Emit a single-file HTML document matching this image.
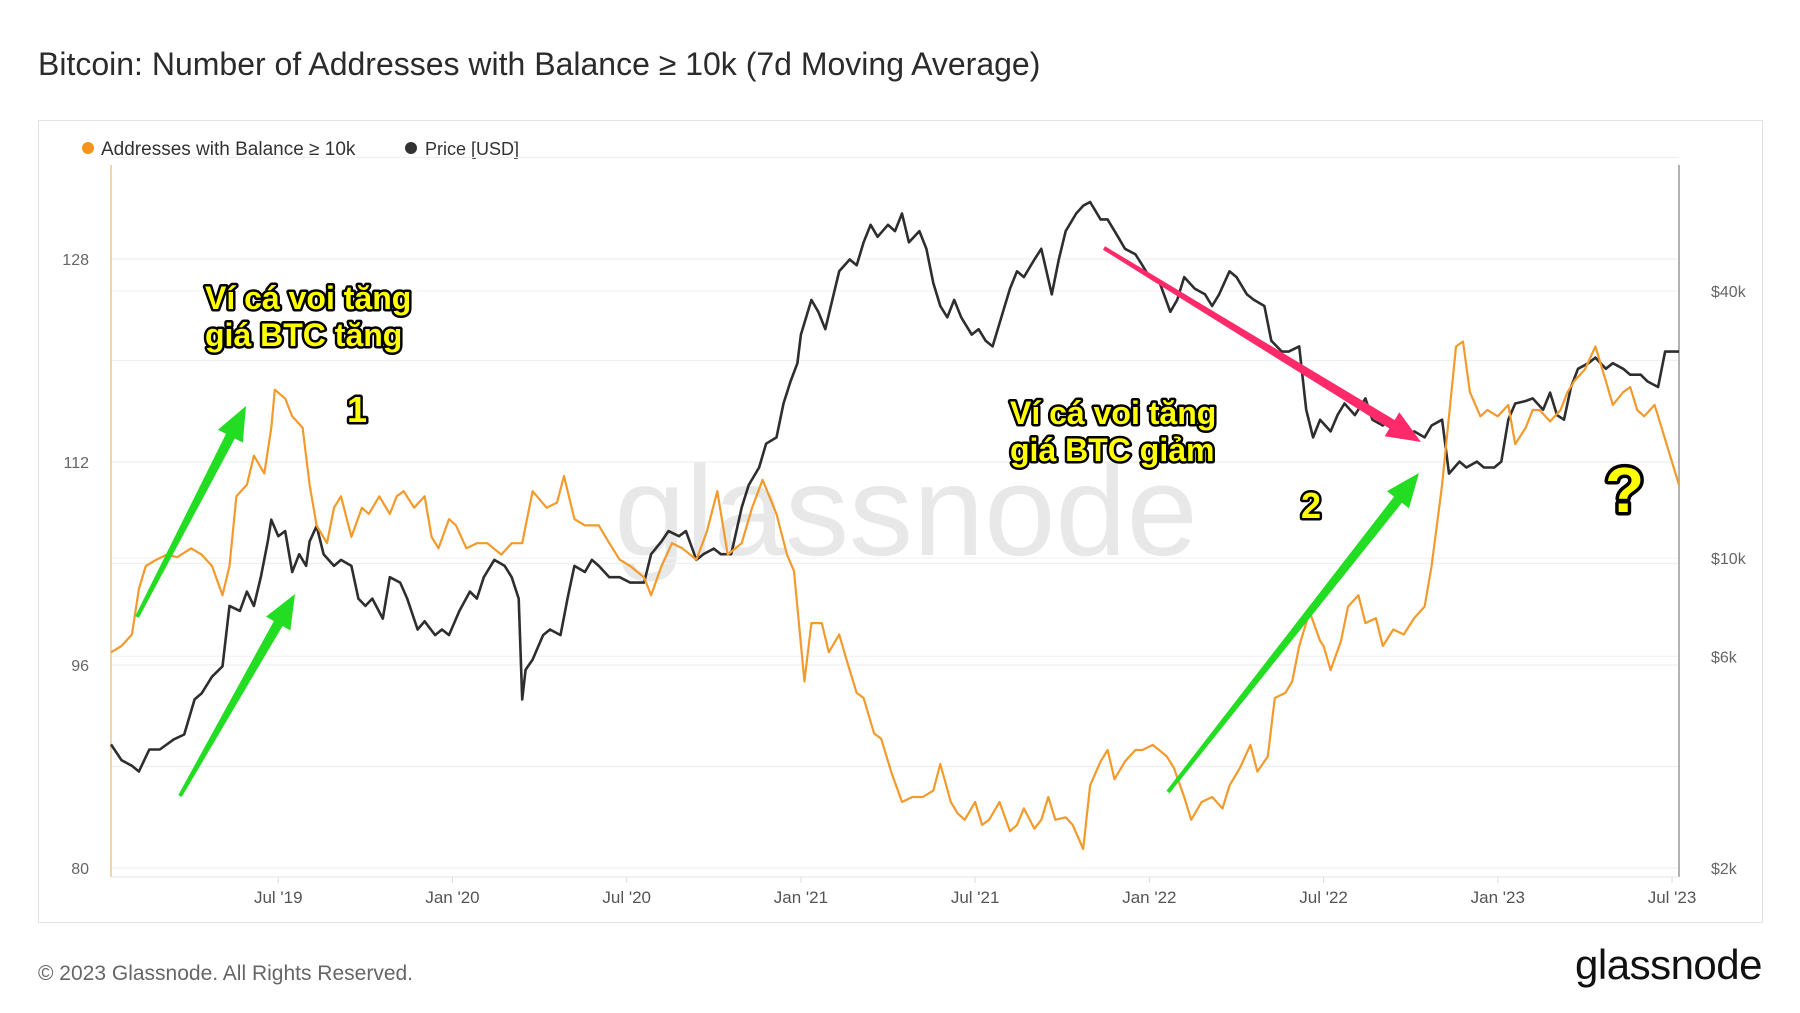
<!DOCTYPE html>
<html><head><meta charset="utf-8">
<style>
html,body{margin:0;padding:0;background:#fff;}
svg{display:block;font-family:"Liberation Sans","DejaVu Sans",sans-serif;}
</style></head>
<body>
<svg id="chart" width="1800" height="1013" viewBox="0 0 1800 1013">
<text x="38" y="75" font-size="32" fill="#2b2b2b">Bitcoin: Number of Addresses with Balance ≥ 10k (7d Moving Average)</text>
<rect x="38.5" y="120.5" width="1724" height="802" fill="#fff" stroke="#e3e3e3"/>
<g>
 <g><circle cx="88" cy="148" r="6" fill="#f7931a"/><text x="101" y="155" font-size="19" fill="#333">Addresses with Balance ≥ 10k</text></g>
 <g><circle cx="411" cy="148" r="6" fill="#333"/><text x="425" y="155" font-size="18" fill="#333">Price [USD]</text></g>
</g>
<text x="906" y="555" font-size="128" fill="#e8e8e8" text-anchor="middle">glassnode</text>
<g id="grid"></g>
<g id="axes"></g>
<g id="series"></g>
<g id="annot">
 <g font-weight="bold" fill="#ffff00" stroke="#000" stroke-width="5" paint-order="stroke" stroke-linejoin="round" font-size="32">
  <text x="205" y="309">Ví cá voi tăng</text>
  <text x="205" y="346">giá BTC tăng</text>
  <text x="347" y="422" font-size="36">1</text>
  <text x="1010" y="424">Ví cá voi tăng</text>
  <text x="1010" y="461">giá BTC giảm</text>
  <text x="1301" y="518" font-size="36">2</text>
  <text x="1605" y="512" font-size="64" stroke-width="7">?</text>
 </g>
</g>
<text x="38" y="980" font-size="21" fill="#666">© 2023 Glassnode. All Rights Reserved.</text>
<text x="1762" y="979" font-size="42" fill="#111" text-anchor="end" letter-spacing="-0.5">glassnode</text>
</svg>
<script>
const addrDates=[2019.02,2019.05,2019.08,2019.10,2019.12,2019.15,2019.18,2019.21,2019.25,2019.28,2019.31,2019.34,2019.36,2019.38,2019.41,2019.43,2019.46,2019.48,2019.49,2019.52,2019.54,2019.57,2019.59,2019.61,2019.64,2019.66,2019.68,2019.71,2019.74,2019.76,2019.79,2019.82,2019.84,2019.86,2019.89,2019.92,2019.94,2019.96,2019.99,2020.01,2020.04,2020.07,2020.10,2020.14,2020.17,2020.20,2020.23,2020.27,2020.30,2020.32,2020.35,2020.38,2020.42,2020.45,2020.48,2020.51,2020.55,2020.57,2020.60,2020.63,2020.66,2020.70,2020.73,2020.76,2020.79,2020.83,2020.86,2020.89,2020.93,2020.96,2020.98,2021.01,2021.03,2021.06,2021.08,2021.11,2021.13,2021.16,2021.18,2021.21,2021.23,2021.26,2021.29,2021.32,2021.35,2021.38,2021.40,2021.43,2021.45,2021.47,2021.50,2021.52,2021.54,2021.57,2021.60,2021.62,2021.64,2021.67,2021.69,2021.71,2021.73,2021.76,2021.78,2021.81,2021.83,2021.86,2021.88,2021.90,2021.93,2021.96,2021.98,2022.01,2022.05,2022.07,2022.10,2022.12,2022.15,2022.18,2022.21,2022.23,2022.26,2022.29,2022.31,2022.34,2022.36,2022.39,2022.41,2022.43,2022.46,2022.49,2022.50,2022.52,2022.55,2022.57,2022.60,2022.62,2022.65,2022.67,2022.70,2022.73,2022.76,2022.79,2022.81,2022.84,2022.86,2022.88,2022.90,2022.92,2022.95,2022.97,2023.00,2023.03,2023.05,2023.08,2023.10,2023.12,2023.15,2023.18,2023.20,2023.22,2023.25,2023.28,2023.31,2023.33,2023.36,2023.38,2023.40,2023.42,2023.45,2023.47,2023.50,2023.52];
const addrValues=[97.0,97.5,98.4,102.0,103.8,104.3,104.7,104.5,105.2,104.7,103.8,101.5,103.8,109.3,110.2,112.5,111.1,114.7,117.7,117.0,115.6,114.7,110.2,107.0,105.6,108.4,109.3,106.1,108.4,107.9,109.3,107.9,109.3,109.7,108.4,109.3,106.1,105.2,107.5,107.0,105.2,105.6,105.6,104.7,105.6,105.6,109.7,108.4,108.8,110.9,107.5,107.0,107.0,105.6,104.3,103.8,102.9,101.5,103.8,105.6,105.2,104.3,106.5,109.7,104.7,105.6,108.4,110.6,107.9,104.7,103.4,94.7,99.3,99.3,97.0,98.4,96.5,93.8,93.4,90.6,90.2,87.5,85.2,85.6,85.6,86.1,88.2,85.2,84.3,83.8,85.2,83.4,83.8,85.2,82.9,83.4,84.7,83.1,83.8,85.6,83.8,84.0,83.4,81.5,86.5,88.4,89.3,87.0,88.4,89.3,89.3,89.7,88.8,87.9,85.6,83.8,85.2,85.6,84.7,86.5,87.9,89.7,87.6,88.8,93.4,93.8,94.7,97.5,100.2,97.9,97.5,95.6,97.9,100.6,101.5,99.3,99.7,97.5,98.8,98.4,99.7,100.6,103.8,110.2,115.6,121.1,121.5,117.5,115.6,116.1,115.6,116.5,113.4,114.7,116.1,116.1,115.2,116.1,117.5,118.4,119.3,121.1,118.4,116.5,117.5,117.9,116.1,115.6,116.5,114.7,112.0,110.2];
const priceDates=[2019.02,2019.05,2019.08,2019.10,2019.13,2019.16,2019.20,2019.23,2019.26,2019.28,2019.31,2019.34,2019.36,2019.39,2019.41,2019.43,2019.45,2019.47,2019.48,2019.50,2019.52,2019.54,2019.56,2019.58,2019.59,2019.61,2019.63,2019.66,2019.68,2019.71,2019.73,2019.75,2019.77,2019.80,2019.82,2019.85,2019.87,2019.90,2019.92,2019.95,2019.97,2019.99,2020.02,2020.05,2020.07,2020.09,2020.12,2020.15,2020.17,2020.19,2020.20,2020.21,2020.23,2020.26,2020.28,2020.31,2020.33,2020.35,2020.38,2020.40,2020.42,2020.45,2020.48,2020.51,2020.55,2020.57,2020.60,2020.62,2020.65,2020.67,2020.70,2020.72,2020.75,2020.77,2020.80,2020.83,2020.85,2020.88,2020.90,2020.93,2020.95,2020.97,2020.99,2021.00,2021.03,2021.05,2021.07,2021.09,2021.11,2021.14,2021.16,2021.18,2021.20,2021.22,2021.25,2021.27,2021.29,2021.31,2021.34,2021.36,2021.38,2021.40,2021.42,2021.44,2021.46,2021.49,2021.51,2021.53,2021.55,2021.58,2021.60,2021.62,2021.64,2021.67,2021.69,2021.72,2021.74,2021.76,2021.79,2021.81,2021.83,2021.86,2021.88,2021.91,2021.93,2021.96,2021.98,2022.00,2022.03,2022.06,2022.08,2022.10,2022.13,2022.16,2022.18,2022.20,2022.23,2022.25,2022.28,2022.30,2022.33,2022.35,2022.38,2022.40,2022.43,2022.45,2022.47,2022.49,2022.52,2022.54,2022.56,2022.59,2022.62,2022.64,2022.67,2022.69,2022.72,2022.74,2022.76,2022.79,2022.81,2022.84,2022.86,2022.89,2022.91,2022.94,2022.96,2022.99,2023.01,2023.03,2023.05,2023.08,2023.10,2023.13,2023.15,2023.17,2023.19,2023.21,2023.23,2023.26,2023.28,2023.31,2023.33,2023.36,2023.38,2023.41,2023.43,2023.46,2023.48,2023.50,2023.52];
const priceK=[3.8,3.5,3.4,3.3,3.7,3.7,3.9,4.0,4.8,4.95,5.4,5.7,7.8,7.6,8.4,7.8,9.05,10.9,12.2,11.2,11.5,9.3,10.2,9.6,10.9,11.8,10.2,9.6,9.9,9.6,8.1,7.8,8.1,7.3,9.05,8.8,8.1,6.9,7.2,6.7,6.9,6.7,7.6,8.4,8.1,9.05,9.9,9.6,9.05,8.1,4.8,5.6,5.9,6.7,6.9,6.7,8.1,9.6,9.3,9.9,9.6,9.05,9.05,8.8,8.8,10.2,10.9,11.5,11.2,11.5,9.9,10.2,10.5,10.2,10.2,13.0,14.6,16.0,18.1,18.7,22.3,25.0,27.5,31.9,38.2,35.9,32.8,38.2,44.3,47.1,45.7,51.5,56.4,53.0,56.4,54.6,59.8,51.5,54.6,49.8,41.7,37.0,34.9,38.2,34.9,31.9,32.8,30.9,30.0,35.9,40.5,44.3,43.0,47.1,49.8,39.3,47.1,54.6,59.8,62.3,63.5,58.0,58.0,53.0,49.8,48.4,45.7,43.0,41.7,35.9,38.2,43.0,40.5,39.3,37.0,39.3,44.3,43.0,39.3,38.2,37.0,30.9,29.2,29.2,30.0,21.6,18.7,20.5,19.3,21.0,22.3,21.0,22.9,20.5,19.9,20.5,18.7,18.7,19.3,18.7,19.9,20.5,15.5,16.5,16.0,16.5,16.0,16.0,16.5,20.5,22.3,22.6,22.9,21.6,23.6,21.0,20.5,24.3,26.7,27.5,28.3,26.7,27.5,26.7,25.9,25.9,25.0,24.3,29.2,29.2,29.2];
const leftTicks=[80,96,112,128];
const leftGrid=[80,88,96,104,112,120,128,136];
const rightTicks=[2,6,10,40];
const rightTickLabels=["$2k","$6k","$10k","$40k"];
const xTicks=[2019.5,2020.0,2020.5,2021.0,2021.5,2022.0,2022.5,2023.0,2023.5];
const xTickLabels=["Jul '19","Jan '20","Jul '20","Jan '21","Jul '21","Jan '22","Jul '22","Jan '23","Jul '23"];

const PL=111,PR=1679,PT=165,PB=877;
const T0=2019.02,T1=2023.52;
function xs(t){return PL+(t-T0)/(T1-T0)*(PR-PL);}
function yl(v){return 868-(v-80)*(203/16);}
function yr(p){return 868-Math.log10(p/2)*443.5;}
const NS='http://www.w3.org/2000/svg';
function mk(tag,attrs,parent){const e=document.createElementNS(NS,tag);for(const k in attrs)e.setAttribute(k,attrs[k]);parent.appendChild(e);return e;}
const grid=document.getElementById('grid'),axes=document.getElementById('axes'),series=document.getElementById('series');
leftGrid.forEach(v=>{const l=mk('line',{x1:PL,x2:PR,y1:yl(v),y2:yl(v),stroke:'#efefef','stroke-width':1.2},grid);

});
rightTicks.forEach(p=>{const l=mk('line',{x1:PL,x2:PR,y1:yr(p),y2:yr(p),stroke:'#f3f3f3','stroke-width':1.2},grid);

});
const la=mk('line',{x1:PL,x2:PL,y1:PT,y2:PB,stroke:'#f2c48a','stroke-width':1.5},axes);


const ra=mk('line',{x1:PR,x2:PR,y1:PT,y2:PB,stroke:'#999','stroke-width':1.5},axes);


const ba=mk('line',{x1:PL,x2:PR,y1:PB,y2:PB,stroke:'#e6e6e6','stroke-width':1},axes);


leftTicks.forEach(v=>{const t=mk('text',{x:89,y:yl(v)+6,'font-size':16,fill:'#666','text-anchor':'end'},axes);t.textContent=v;

});
rightTicks.forEach((p,i)=>{const t=mk('text',{x:1711,y:yr(p)+6,'font-size':16,fill:'#666'},axes);t.textContent=rightTickLabels[i];

});
xTicks.forEach((d,i)=>{const x=xs(d);
const tk=mk('line',{x1:x,x2:x,y1:PB,y2:PB+6,stroke:'#ddd'},axes);


const t=mk('text',{x:x,y:903,'font-size':17,fill:'#555','text-anchor':'middle'},axes);t.textContent=xTickLabels[i];

});
const pp=mk('path',{d:priceDates.map((d,i)=>(i?'L':'M')+xs(d).toFixed(1)+','+yr(priceK[i]).toFixed(1)).join(''),fill:'none',stroke:'#2e2e2e','stroke-width':2.6,'stroke-linejoin':'round'},series);


const ap=mk('path',{d:addrDates.map((d,i)=>(i?'L':'M')+xs(d).toFixed(1)+','+yl(addrValues[i]).toFixed(1)).join(''),fill:'none',stroke:'#f39a2c','stroke-width':2.2,'stroke-linejoin':'round'},series);


const annot=document.getElementById('annot');
function arrow(x1,y1,x2,y2,col,name){
 const dx=x2-x1,dy=y2-y1,L=Math.hypot(dx,dy),ux=dx/L,uy=dy/L,px=-uy,py=ux;
 const hl=34,hw=14,bx=x2-ux*hl,by=y2-uy*hl;
 const d=`M${x1+px*2},${y1+py*2}L${bx+px*5},${by+py*5}L${bx+px*hw},${by+py*hw}L${x2},${y2}L${bx-px*hw},${by-py*hw}L${bx-px*5},${by-py*5}L${x1-px*2},${y1-py*2}Z`;
 const g=mk('path',{d:d,fill:col},annot);
 
 
}
arrow(137,617,246,406,'#22dd22','arrow-green-addresses-1');
arrow(180,796,295,594,'#22dd22','arrow-green-price-1');
arrow(1168,792,1419,473,'#22dd22','arrow-green-addresses-2');
arrow(1104,248,1421,442,'#ff2a6a','arrow-pink-price-2');
annot.parentNode.appendChild(annot);
</script>
</body></html>
